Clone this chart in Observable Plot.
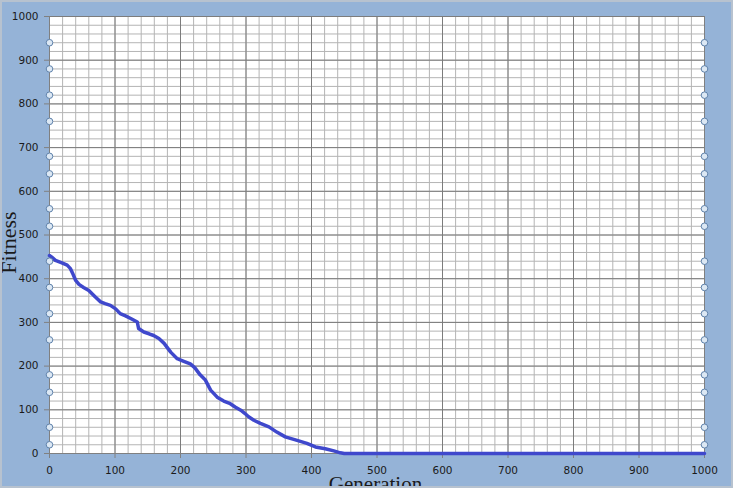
<!DOCTYPE html>
<html>
<head>
<meta charset="utf-8">
<script src="https://cdn.jsdelivr.net/npm/d3@7"></script>
<script src="https://cdn.jsdelivr.net/npm/@observablehq/plot@0.6"></script>
<style>
  html, body { margin: 0; padding: 0; background: #95B3D7; }
  #chart svg { display: block; }
</style>
</head>
<body>
<div id="chart"></div>
<script>
// Generation values (x) and best fitness (y)
const generation = [0, 3, 9, 18, 27, 32, 36, 40, 45, 52, 60, 70, 78, 85, 93, 101, 108, 116, 124, 134, 136, 144, 152, 159, 167, 175, 185, 195, 205, 215, 222, 230, 238, 246, 256, 266, 276, 284, 292, 298, 304, 312, 322, 335, 347, 360, 378, 393, 406, 421, 434, 444, 450, 1000];
const fitness    = [453, 450, 442, 437, 431, 423, 410, 396, 387, 380, 373, 358, 347, 343, 339, 331, 320, 315, 309, 301, 286, 278, 274, 270, 263, 252, 232, 217, 211, 205, 196, 180, 168, 145, 129, 120, 114, 106, 99, 92, 84, 76, 69, 61, 49, 38, 30, 23, 15, 11, 6, 1.5, 0, 0];

// Axis tick labels
const xTicks = [0, 100, 200, 300, 400, 500, 600, 700, 800, 900, 1000];
const yTicks = [0, 100, 200, 300, 400, 500, 600, 700, 800, 900, 1000];
const minorTicks = d3.range(0, 1001, 20);

// Selection handles visible on the plot-area edges (fitness units)
const handleY = [940, 880, 820, 760, 680, 640, 560, 520, 440, 380, 320, 260, 180, 140, 60, 20];

const xTitle = "Generation";
const yTitle = "Fitness";

const data = generation.map((g, i) => ({gen: g, fit: fitness[i]}));
const handles = [0, 1000].flatMap(x => handleY.map(y => ({x, y})));

const svg = Plot.plot({
  width: 733,
  height: 488,
  marginLeft: 49,
  marginRight: 29,
  marginTop: 16,
  marginBottom: 35,
  style: {background: "#95B3D7", fontFamily: "DejaVu Sans, sans-serif", fontSize: "10.5px", color: "#1a1a1a"},
  x: {domain: [0, 1000]},
  y: {domain: [0, 1000]},
  marks: [
    Plot.frame({fill: "white", stroke: "none"}),
    Plot.gridX(minorTicks, {stroke: "#b4b4b4", strokeOpacity: 1}),
    Plot.gridY(minorTicks, {stroke: "#b4b4b4", strokeOpacity: 1}),
    Plot.gridX(xTicks, {stroke: "#7c7c7c", strokeOpacity: 1}),
    Plot.gridY(yTicks, {stroke: "#7c7c7c", strokeOpacity: 1}),
    Plot.axisX(xTicks, {tickSize: 5, tickPadding: 8, label: null, stroke: "#808080", fill: "#1a1a1a", tickFormat: d => String(d)}),
    Plot.axisY(yTicks, {tickSize: 5, tickPadding: 6, label: null, stroke: "#808080", fill: "#1a1a1a", tickFormat: d => String(d)}),
    Plot.ruleX([0, 1000], {stroke: "#808080"}),
    Plot.ruleY([0], {stroke: "#808080"}),
    Plot.line(data, {x: "gen", y: "fit", stroke: "#3F48CC", strokeWidth: 3.5, strokeLinejoin: "round", strokeLinecap: "round"}),
    Plot.dot(handles, {x: "x", y: "y", r: 3.3, fill: "#dce8f4", stroke: "#5f82ab", strokeWidth: 1})
  ]
});

const s = d3.select(svg);
s.append("text")
  .attr("transform", "translate(16,242.5) rotate(-90)")
  .attr("text-anchor", "middle")
  .attr("font-family", "Liberation Serif, Times New Roman, serif")
  .attr("font-size", 22)
  .attr("fill", "#1a1a1a")
  .text(yTitle);
s.append("text")
  .attr("x", 375.5)
  .attr("y", 491)
  .attr("text-anchor", "middle")
  .attr("font-family", "Liberation Serif, Times New Roman, serif")
  .attr("font-size", 21)
  .attr("fill", "#1a1a1a")
  .text(xTitle);
s.append("rect")
  .attr("x", 1).attr("y", 1).attr("width", 731).attr("height", 486)
  .attr("fill", "none").attr("stroke", "#b7c2cf").attr("stroke-width", 2);

document.getElementById("chart").appendChild(svg);
</script>
</body>
</html>
